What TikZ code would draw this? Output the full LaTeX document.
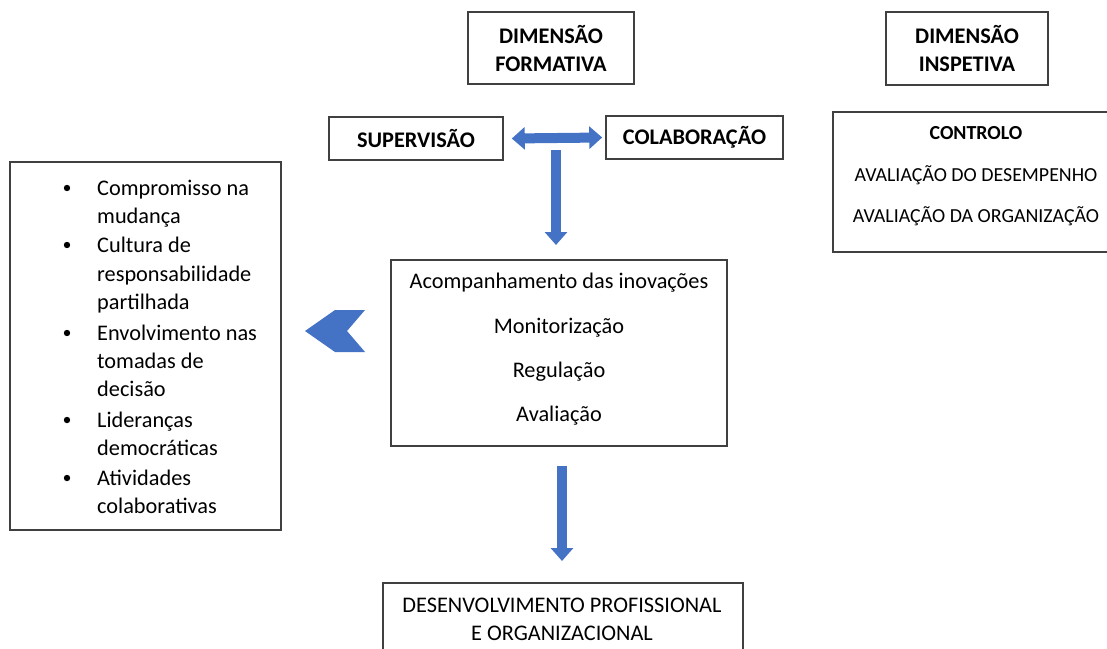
\documentclass[tikz,border=0pt]{standalone}
\usepackage{fontspec}
\setmainfont{Carlito}
\usetikzlibrary{arrows.meta,positioning}
\definecolor{officeblue}{HTML}{4472C4}
\definecolor{boxline}{HTML}{404040}

\begin{document}
\begin{tikzpicture}[x=1pt, y=-1pt,
  frame/.style={draw=boxline, line width=1.6pt, inner sep=0pt},
  txt/.style={font=\fontsize{22.3}{28}\selectfont, inner sep=0pt},
  smalltxt/.style={font=\fontsize{19.9}{28}\selectfont, inner sep=0pt},
  head/.style={font=\fontsize{22.3}{28}\bfseries\selectfont, align=center},
  bluearrow/.style={draw=officeblue, line width=10pt, -{Triangle[width=22pt,length=13pt]}},
  bluearrows/.style={draw=officeblue, line width=10pt, {Triangle[width=22pt,length=13pt]}-{Triangle[width=22pt,length=13pt]}}
]
\useasboundingbox (0,0) rectangle (1107,648);
\clip (0,0) rectangle (1107,648);

% top boxes
\node[frame, head, minimum width=166pt, minimum height=72pt] (formativa) at (551,48) {DIMENSÃO\\FORMATIVA};
\node[frame, head, minimum width=162pt, minimum height=73pt] (inspetiva) at (967,48.5) {DIMENSÃO\\INSPETIVA};
\node[frame, head, minimum width=174pt, minimum height=43pt] (supervisao) at (416,138.5) {SUPERVISÃO};
\node[frame, head, minimum width=177pt, minimum height=43pt] (colaboracao) at (694.5,137.5) {COLABORAÇÃO};

% framed areas
\node[frame, minimum width=280pt, minimum height=140pt] (controlo) at (973,182) {};
\node[frame, minimum width=271pt, minimum height=368pt] (valores) at (145.5,346) {};
\node[frame, minimum width=336pt, minimum height=186pt] (centro) at (559,353) {};
\node[frame, minimum width=360pt, minimum height=90pt] (desenv) at (563,628) {};

% texts of the right box
\node[smalltxt, anchor=base, font=\fontsize{19.9}{28}\bfseries\selectfont] (c1) at (976,139.5) {CONTROLO};
\node[smalltxt, anchor=base] (c2) at (976,181.5) {AVALIAÇÃO DO DESEMPENHO};
\node[smalltxt, anchor=base] (c3) at (976,222.5) {AVALIAÇÃO DA ORGANIZAÇÃO};

% texts of the centre box
\node[txt, anchor=base] (m1) at (559,288) {Acompanhamento das inovações};
\node[txt, anchor=base] (m2) at (559,333) {Monitorização};
\node[txt, anchor=base] (m3) at (559,377) {Regulação};
\node[txt, anchor=base] (m4) at (559,421) {Avaliação};

% bottom box
\node[txt, anchor=base] (d1) at (562,612.5) {DESENVOLVIMENTO PROFISSIONAL};
\node[txt, anchor=base] (d2) at (562,640.5) {E ORGANIZACIONAL};

% list of the left box
\foreach \by in {188,245,333,420,478}
  \fill (67,\by) circle (3.2pt);
\foreach \ly/\ltext in {188/Compromisso na, 216/mudança, 245/Cultura de,
    274/responsabilidade, 302/partilhada, 333/Envolvimento nas, 361/tomadas de,
    389/decisão, 420/Lideranças, 448/democráticas, 478/Atividades, 506/colaborativas}
  \node[txt, anchor=base west] (l\ly) at (97,\ly+7) {\ltext};

% arrows
\coordinate (a1) at (556,150);
\coordinate (a2) at (556,245);
\coordinate (b1) at (562,466);
\coordinate (b2) at (562,561);
\draw[bluearrows] ([xshift=8pt]supervisao.east) -- ([xshift=-3pt]colaboracao.west);
\draw[bluearrow] (a1) -- (a2);
\draw[bluearrow] (b1) -- (b2);
\fill[officeblue] (305,331) -- (335,310) -- (365,310) -- (347,331) -- (365,352) -- (335,352) -- cycle;
\end{tikzpicture}
\end{document}
